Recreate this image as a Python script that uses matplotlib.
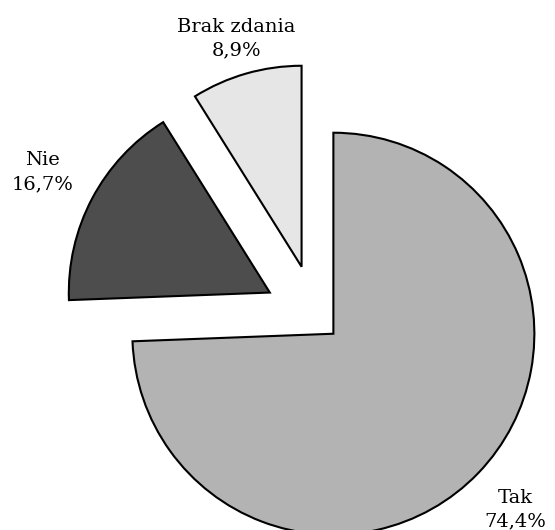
import numpy as np
import matplotlib
matplotlib.use("Agg")
import matplotlib.pyplot as plt

# survey answers
labels = ["Tak", "Nie", "Brak zdania"]
shares = [74.4, 16.7, 8.9]
value_labels = ["74,4%", "16,7%", "8,9%"]
colors = ["#b3b3b3", "#4d4d4d", "#e6e6e6"]
explode = [0.12, 0.26, 0.26]
label_radius = [1.26, 1.28, 1.18]

fig = plt.figure(figsize=(5.55, 5.30), dpi=100)
ax = fig.add_axes([0, 0, 1, 1])

wedges, _ = ax.pie(
    shares,
    colors=colors,
    explode=explode,
    startangle=90,
    counterclock=False,
    wedgeprops=dict(edgecolor="black", linewidth=1.5),
)

for w, name, val, ex, lr in zip(wedges, labels, value_labels, explode, label_radius):
    mid = np.deg2rad((w.theta1 + w.theta2) / 2)
    d = ex + lr
    ax.text(d * np.cos(mid), d * np.sin(mid), f"{name}\n{val}",
            ha="center", va="center", family="DejaVu Serif",
            fontsize=14, linespacing=1.4)

# pie centre sits at (316, 317) px, radius 201 px
px = 201.0
ax.set_xlim(-316 / px, (555 - 316) / px)
ax.set_ylim(-(530 - 317) / px, 317 / px)
ax.set_aspect("auto")
ax.axis("off")

fig.savefig("out.png", dpi=100)
